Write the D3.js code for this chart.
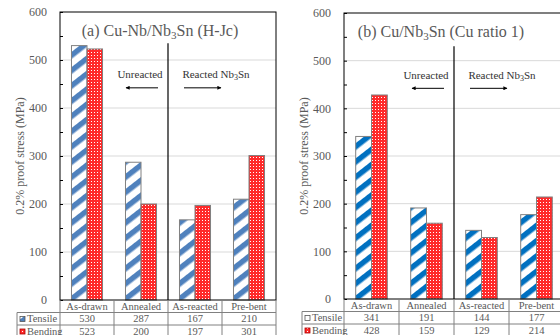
<!DOCTYPE html>
<html>
<head>
<meta charset="utf-8">
<script src="https://cdn.jsdelivr.net/npm/d3@7"></script>
<style>
  body { margin: 0; background: #fff; }
  svg text { font-family: "Liberation Serif", "Times New Roman", serif !important; }
</style>
</head>
<body>
<script>
// data
const categories = ["As-drawn", "Annealed", "As-reacted", "Pre-bent"];
const seriesNames = ["Tensile", "Bending"];
const tensileA = [530, 287, 167, 210];
const bendingA = [523, 200, 197, 301];
const tensileB = [341, 191, 144, 177];
const bendingB = [428, 159, 129, 214];
const yTicks = [0, 100, 200, 300, 400, 500, 600];

const textGray = "#595959";
const lineGray = "#808080";

let svg = d3.select("body").append("svg")
  .attr("width", 560)
  .attr("height", 335);

let defs = svg.append("defs");

// striped fill for tensile bars
function stripes(id, color) {
  let p = defs.append("pattern")
    .attr("id", id)
    .attr("patternUnits", "userSpaceOnUse")
    .attr("width", 12).attr("height", 12)
    .attr("patternTransform", "rotate(52)");
  p.append("rect").attr("width", 12).attr("height", 12).attr("fill", "#fff");
  p.append("rect").attr("width", 5.5).attr("height", 12).attr("fill", color);
}
stripes("stripeA", "#4f81bd");
stripes("stripeB", "#0070c0");

// small red/white dotted fill for bending bars
let dots = defs.append("pattern")
  .attr("id", "dots")
  .attr("patternUnits", "userSpaceOnUse")
  .attr("width", 3).attr("height", 3);
dots.append("rect").attr("width", 3).attr("height", 3).attr("fill", "#ff2a2a");
dots.append("rect").attr("x", 1).attr("y", 1).attr("width", 1).attr("height", 1).attr("fill", "#fff");

// arrowhead marker
defs.append("marker")
  .attr("id", "arrowHead")
  .attr("viewBox", "0 0 10 10")
  .attr("refX", 9).attr("refY", 5)
  .attr("markerWidth", 5).attr("markerHeight", 4)
  .attr("markerUnits", "strokeWidth")
  .attr("orient", "auto")
  .append("path")
  .attr("d", "M0,0L10,5L0,10z")
  .attr("fill", "#000");

function drawPanel(cfg) {
  let g = svg.append("g");

  let x = d3.scaleBand()
    .domain(categories)
    .range([cfg.left, cfg.right]);

  let xInner = d3.scaleBand()
    .domain(seriesNames)
    .range([0, x.bandwidth()])
    .paddingInner(0)
    .paddingOuter(0.74);

  let y = d3.scaleLinear()
    .domain([0, 600])
    .range([cfg.bottom, cfg.top]);

  // gridlines
  g.append("g").selectAll("line")
    .data(yTicks.filter(d => d > 0 && d < 600))
    .enter().append("line")
    .attr("x1", cfg.left).attr("x2", cfg.right)
    .attr("y1", d => y(d)).attr("y2", d => y(d))
    .attr("stroke", "#d9d9d9")
    .attr("stroke-width", 1);

  // bars
  let rows = categories.map((c, i) => ({ cat: c, Tensile: cfg.tensile[i], Bending: cfg.bending[i] }));
  let groups = g.append("g").selectAll("g")
    .data(rows)
    .enter().append("g")
    .attr("transform", d => `translate(${x(d.cat)},0)`);

  groups.selectAll("rect")
    .data(d => seriesNames.map(s => ({ s: s, v: d[s] })))
    .enter().append("rect")
    .attr("x", d => xInner(d.s))
    .attr("y", d => y(d.v))
    .attr("width", xInner.bandwidth())
    .attr("height", d => y(0) - y(d.v))
    .attr("fill", d => d.s == "Tensile" ? `url(#${cfg.stripe})` : "url(#dots)")
    .attr("stroke", lineGray)
    .attr("stroke-width", 1);

  // frame
  g.append("rect")
    .attr("x", cfg.left).attr("y", cfg.top)
    .attr("width", cfg.right - cfg.left)
    .attr("height", cfg.bottom - cfg.top)
    .attr("fill", "none")
    .attr("stroke", "#000")
    .attr("stroke-width", 1);

  // y axis
  let leftAxis = d3.axisLeft(y)
    .tickValues(d3.range(0, 601, 50))
    .tickSize(-3)
    .tickPadding(13)
    .tickFormat(d => d % 100 == 0 ? d : "");
  let ax = g.append("g")
    .attr("transform", `translate(${cfg.left},0)`)
    .call(leftAxis);
  ax.select(".domain").remove();
  ax.selectAll("line").attr("stroke", "#000");
  ax.selectAll("text")
    .attr("fill", textGray)
    .style("font-size", "12px");

  g.append("text")
    .attr("transform", `translate(${cfg.left - 40}, ${(cfg.top + cfg.bottom) / 2})rotate(-90)`)
    .attr("text-anchor", "middle")
    .attr("dy", "0.35em")
    .attr("fill", textGray)
    .style("font-size", "12px")
    .text("0.2% proof stress (MPa)");

  // title
  let title = g.append("text")
    .attr("x", cfg.titleX)
    .attr("y", cfg.top + 24)
    .attr("text-anchor", "middle")
    .attr("fill", textGray)
    .style("font-size", "16px");
  title.append("tspan").text(cfg.titleA);
  title.append("tspan").attr("dy", 3).style("font-size", "11px").text("3");
  title.append("tspan").attr("dy", -3).text(cfg.titleB);

  // divider between unreacted and reacted
  let divX = x("As-reacted");
  g.append("line")
    .attr("x1", divX).attr("x2", divX)
    .attr("y1", y(cfg.divTop)).attr("y2", y(0))
    .attr("stroke", "#000")
    .attr("stroke-width", 1.2);

  g.append("text")
    .attr("x", divX - 28)
    .attr("y", y(462))
    .attr("text-anchor", "middle")
    .attr("fill", "#333")
    .style("font-size", "11px")
    .text("Unreacted");

  let r = g.append("text")
    .attr("x", divX + 48)
    .attr("y", y(462))
    .attr("text-anchor", "middle")
    .attr("fill", "#333")
    .style("font-size", "11px");
  r.append("tspan").text("Reacted Nb");
  r.append("tspan").attr("dy", 2).style("font-size", "8px").text("3");
  r.append("tspan").attr("dy", -2).text("Sn");

  // arrows
  let ay = y(442);
  g.append("line")
    .attr("x1", divX - 10).attr("x2", divX - 42)
    .attr("y1", ay).attr("y2", ay)
    .attr("stroke", "#000").attr("stroke-width", 1)
    .attr("marker-end", "url(#arrowHead)");
  g.append("line")
    .attr("x1", divX + 16).attr("x2", divX + 53)
    .attr("y1", ay).attr("y2", ay)
    .attr("stroke", "#000").attr("stroke-width", 1)
    .attr("marker-end", "url(#arrowHead)");

  // data table under the chart
  let rowH = 12.5;
  let tb = g.append("g");
  let rowTops = [cfg.bottom, cfg.bottom + rowH, cfg.bottom + 2 * rowH, cfg.bottom + 3 * rowH];

  // horizontal table lines
  [1, 2, 3].forEach(k => {
    tb.append("line")
      .attr("x1", cfg.tableLeft).attr("x2", cfg.right)
      .attr("y1", rowTops[k]).attr("y2", rowTops[k])
      .attr("stroke", lineGray);
  });

  // vertical table lines
  let colEdges = categories.map(c => x(c)).concat([cfg.right]);
  tb.selectAll(".vcol")
    .data(colEdges)
    .enter().append("line")
    .attr("x1", d => d).attr("x2", d => d)
    .attr("y1", cfg.bottom).attr("y2", rowTops[3])
    .attr("stroke", lineGray);
  tb.append("line")
    .attr("x1", cfg.tableLeft).attr("x2", cfg.tableLeft)
    .attr("y1", rowTops[1]).attr("y2", rowTops[3])
    .attr("stroke", lineGray);

  // category labels
  tb.selectAll(".cat")
    .data(categories)
    .enter().append("text")
    .attr("x", d => x(d) + x.bandwidth() / 2)
    .attr("y", rowTops[0] + 9.5)
    .attr("text-anchor", "middle")
    .attr("fill", textGray)
    .style("font-size", "10.5px")
    .text(d => d);

  // value rows
  [cfg.tensile, cfg.bending].forEach((vals, k) => {
    tb.selectAll(".v" + k)
      .data(vals)
      .enter().append("text")
      .attr("x", (d, i) => x(categories[i]) + x.bandwidth() / 2)
      .attr("y", rowTops[k + 1] + 9.5)
      .attr("text-anchor", "middle")
      .attr("fill", textGray)
      .style("font-size", "10.5px")
      .text(d => d);

    tb.append("rect")
      .attr("x", cfg.tableLeft + 3)
      .attr("y", rowTops[k + 1] + 4)
      .attr("width", 5).attr("height", 5)
      .attr("fill", k == 0 ? cfg.legendFill : "url(#dots)")
      .attr("stroke", k == 0 ? "#555" : "#a00")
      .attr("stroke-width", 0.8);

    tb.append("text")
      .attr("x", cfg.tableLeft + 10)
      .attr("y", rowTops[k + 1] + 9.5)
      .attr("fill", textGray)
      .style("font-size", "10.5px")
      .text(seriesNames[k]);
  });
}

drawPanel({
  left: 60, right: 276, top: 12, bottom: 300,
  tableLeft: 17,
  tensile: tensileA, bending: bendingA,
  stripe: "stripeA", legendFill: "url(#stripeA)",
  titleX: 160, titleA: "(a) Cu-Nb/Nb", titleB: "Sn (H-Jc)",
  divTop: 535
});

drawPanel({
  left: 344, right: 564, top: 13, bottom: 299,
  tableLeft: 302,
  tensile: tensileB, bending: bendingB,
  stripe: "stripeB", legendFill: "#fff",
  titleX: 441, titleA: "(b) Cu/Nb", titleB: "Sn (Cu ratio 1)",
  divTop: 530
});
</script>
</body>
</html>
